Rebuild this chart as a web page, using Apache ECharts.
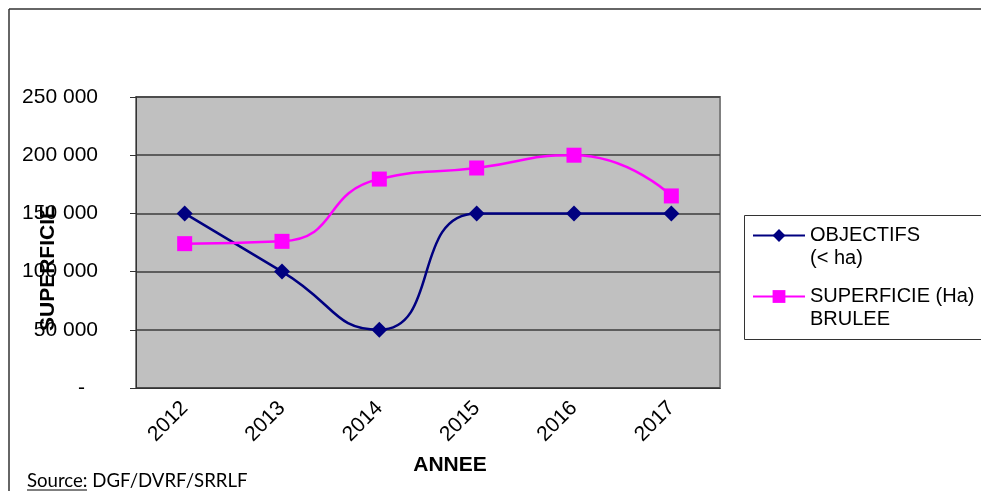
<!DOCTYPE html>
<html>
<head>
<meta charset="utf-8">
<script src="https://cdn.jsdelivr.net/npm/echarts@6/dist/echarts.min.js"></script>
<style>
  html, body { margin: 0; padding: 0; background: #fff; }
  #chart { width: 981px; height: 491px; }
</style>
</head>
<body>
<div id="chart"></div>
<script>
// données
var annees = ["2012", "2013", "2014", "2015", "2016", "2017"];
var objectifs = [150000, 100000, 50000, 150000, 150000, 150000];
var superficie = [124000, 126000, 179500, 189000, 200000, 165000];
var nomObjectifs = "OBJECTIFS\n(< ha)";
var nomSuperficie = "SUPERFICIE (Ha)\nBRULEE";

var font = "Liberation Sans, Arial, sans-serif";
var myChart = echarts.init(document.getElementById("chart"));

function fmt(v) {
  if (v === 0) return "{d|-}";
  return String(v).replace(/\B(?=(\d{3})+(?!\d))/g, " ");
}

var option = {
  animation: false,
  backgroundColor: "#fff",
  grid: {
    left: 136,
    right: 261,
    top: 97,
    bottom: 103,
    show: true,
    backgroundColor: "#C0C0C0",
    borderColor: "#808080",
    borderWidth: 2
  },
  legend: {
    left: 752,
    top: 201,
    orient: "vertical",
    padding: 0,
    itemGap: -8,
    itemWidth: 52,
    itemHeight: 16,
    data: [nomObjectifs, nomSuperficie],
    // ligne vide devant pour aligner le symbole sur la 1re ligne
    formatter: function (name) {
      return " \n" + name;
    },
    textStyle: {
      fontFamily: font,
      fontSize: 20,
      lineHeight: 23,
      color: "#000"
    }
  },
  xAxis: {
    type: "category",
    data: annees,
    boundaryGap: true,
    axisLine: { lineStyle: { color: "#333", width: 1 } },
    axisTick: { length: 6, lineStyle: { color: "#333" } },
    axisLabel: {
      rotate: 45,
      margin: 17,
      fontFamily: font,
      fontSize: 21,
      color: "#000"
    }
  },
  yAxis: {
    type: "value",
    min: 0,
    max: 250000,
    interval: 50000,
    axisLine: { show: true, lineStyle: { color: "#333", width: 1 } },
    axisTick: { show: true, length: 6, lineStyle: { color: "#333" } },
    splitLine: { lineStyle: { color: "#3c3c3c", width: 1.5 } },
    axisLabel: {
      margin: 38,
      fontFamily: font,
      fontSize: 21,
      color: "#000",
      formatter: fmt,
      rich: { d: { fontFamily: font, fontSize: 21, color: "#000", padding: [0, 13, 0, 0] } }
    }
  },
  series: [
    {
      name: nomObjectifs,
      type: "line",
      data: objectifs,
      smooth: 0.55,
      symbol: "diamond",
      symbolSize: 16,
      itemStyle: { color: "#000080" },
      lineStyle: { color: "#000080", width: 2.5 }
    },
    {
      name: nomSuperficie,
      type: "line",
      data: superficie,
      smooth: 0.55,
      symbol: "rect",
      symbolSize: 15,
      itemStyle: { color: "#FF00FF" },
      lineStyle: { color: "#FF00FF", width: 2.5 }
    }
  ],
  graphic: [
    { type: "line", shape: { x1: 9, y1: 9, x2: 981, y2: 9 }, style: { stroke: "#333", lineWidth: 1.5 }, z: -1 },
    { type: "line", shape: { x1: 9, y1: 9, x2: 9, y2: 491 }, style: { stroke: "#333", lineWidth: 1.5 }, z: -1 },
    { type: "rect", shape: { x: 744.5, y: 215.5, width: 300, height: 124 }, style: { fill: "#fff", stroke: "#333", lineWidth: 1 }, z: -1 },
    {
      type: "text", x: 48, y: 268, rotation: Math.PI / 2,
      style: { text: "SUPERFICIE", fontFamily: font, fontWeight: "bold", fontSize: 21, fill: "#000", align: "center", verticalAlign: "middle" }
    },
    {
      type: "text", x: 450, y: 465,
      style: { text: "ANNEE", fontFamily: font, fontWeight: "bold", fontSize: 21, fill: "#000", align: "center", verticalAlign: "middle" }
    },
    {
      type: "text", x: 27, y: 481,
      style: { text: "Source: DGF/DVRF/SRRLF", fontFamily: "Lato, Open Sans, sans-serif", fontSize: 18.6, fill: "#000", align: "left", verticalAlign: "middle" }
    },
    { type: "line", shape: { x1: 27, y1: 490, x2: 87, y2: 490 }, style: { stroke: "#000", lineWidth: 1 } }
  ]
};

myChart.setOption(option);
</script>
</body>
</html>
